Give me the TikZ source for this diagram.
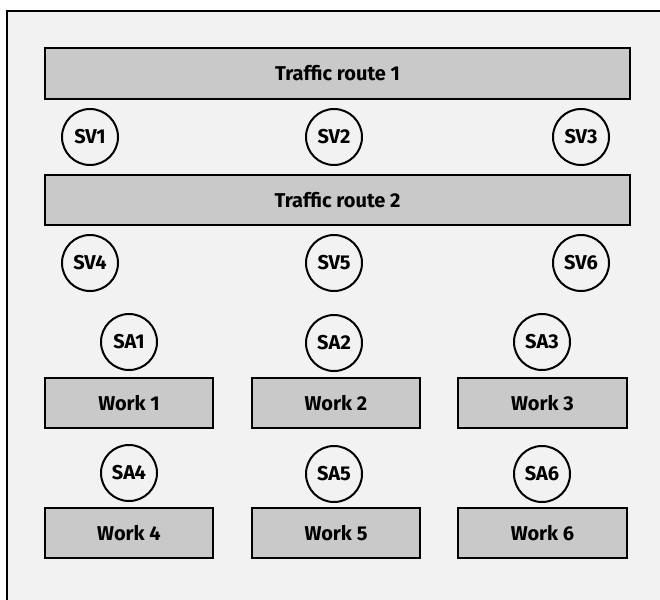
\documentclass[tikz,border=0pt]{standalone}
\usepackage{fontspec}
\setmainfont{Fira Sans}
\begin{document}
\begin{tikzpicture}[x=1pt,y=-1pt,
  bar/.style={draw=black,fill=boxgray,line width=2.4pt,inner sep=0pt,font=\fontsize{20}{22}\selectfont\bfseries},
  ring/.style={circle,draw=black,fill=bggray,line width=2pt,minimum size=56pt,inner sep=0pt,font=\fontsize{20}{22}\selectfont\bfseries}]
\definecolor{bggray}{HTML}{F2F2F2}
\definecolor{boxgray}{HTML}{C8C9C8}
\useasboundingbox (0,0) rectangle (660,599);
\fill[white] (0,0) rectangle (660,599);
\fill[bggray] (7,11) rectangle (670,610);
\draw[line width=2.2pt] (7,612) -- (7,11) -- (670,11);
% traffic routes
\node[bar,minimum width=585pt,minimum height=51pt] (tr1) at (337.5,73.5) {Traffic route 1};
\node[bar,minimum width=585pt,minimum height=50pt] (tr2) at (337.5,200) {Traffic route 2};
% SV circles
\node[ring] (sv1) at (90,137) {SV1};
\node[ring] (sv2) at (334,137) {SV2};
\node[ring] (sv3) at (581,137) {SV3};
\node[ring] (sv4) at (90,263) {SV4};
\node[ring] (sv5) at (334,263) {SV5};
\node[ring] (sv6) at (581,263) {SV6};
% SA circles
\node[ring] (sa1) at (129,342) {SA1};
\node[ring] (sa2) at (334,343) {SA2};
\node[ring] (sa3) at (542,342) {SA3};
\node[ring] (sa4) at (129,473) {SA4};
\node[ring] (sa5) at (334,474) {SA5};
\node[ring] (sa6) at (542,474) {SA6};
% work boxes
\node[bar,minimum width=168pt,minimum height=50pt] (w1) at (129,403) {Work 1};
\node[bar,minimum width=168pt,minimum height=50pt] (w2) at (336,403) {Work 2};
\node[bar,minimum width=169pt,minimum height=50pt] (w3) at (542.5,403) {Work 3};
\node[bar,minimum width=168pt,minimum height=50pt] (w4) at (129,533) {Work 4};
\node[bar,minimum width=168pt,minimum height=50pt] (w5) at (336,533) {Work 5};
\node[bar,minimum width=169pt,minimum height=50pt] (w6) at (542.5,533) {Work 6};
\end{tikzpicture}
\end{document}
